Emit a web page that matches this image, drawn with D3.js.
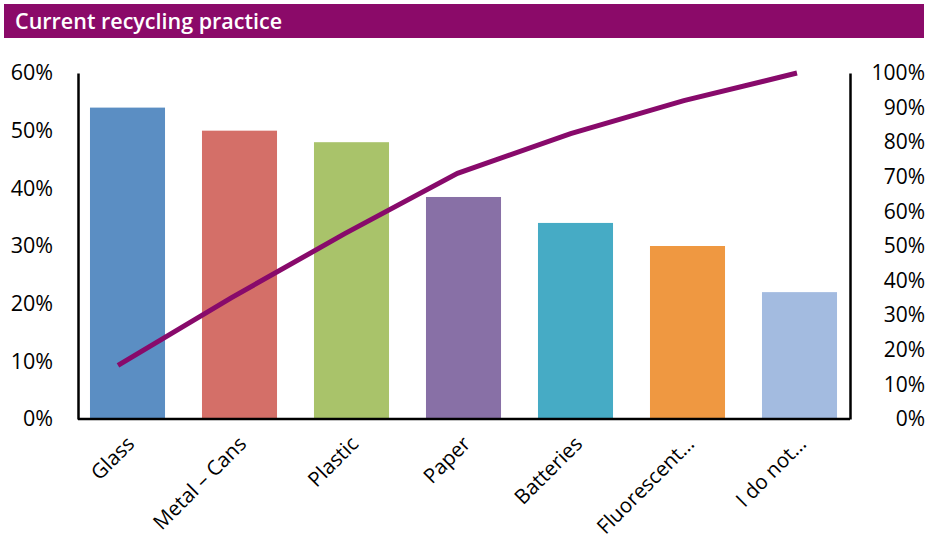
<!DOCTYPE html>
<html>
<head>
<meta charset="utf-8">
<script src="https://cdn.jsdelivr.net/npm/d3@7"></script>
<style>
  body { margin: 0; background: #fff; }
  svg { display: block; }
</style>
</head>
<body>
<div id="chart"></div>
<script>
// data
const categories = ["Glass", "Metal \u2013 Cans", "Plastic", "Paper", "Batteries", "Fluorescent\u2026", "I do not\u2026"];
const barValues = [54, 50, 48, 38.5, 34, 30, 22];
const cumulative = [15.5, 35, 53.5, 71, 82.5, 92, 100];
const barColors = ["#5b8ec3", "#d46f68", "#a9c36a", "#8870a6", "#46abc5", "#ef9841", "#a3bbe0"];
const leftTicks = [0, 10, 20, 30, 40, 50, 60];
const rightTicks = [0, 10, 20, 30, 40, 50, 60, 70, 80, 90, 100];
const title = "Current recycling practice";

const FONT = "'Open Sans', 'Noto Sans', sans-serif";
const W = 936, H = 541;
const plot = { left: 78, right: 850, top: 73, bottom: 419 };

const svg = d3.select("#chart").append("svg")
  .attr("width", W)
  .attr("height", H)
  .style("font-family", FONT);

// title bar
svg.append("rect")
  .attr("x", 4).attr("y", 4)
  .attr("width", 920).attr("height", 34)
  .attr("fill", "#8b0a69");
svg.append("text")
  .attr("x", 15).attr("y", 29)
  .attr("fill", "#fff")
  .attr("font-family", FONT)
  .attr("font-size", 21.5)
  .attr("font-weight", 600)
  .text(title);

const x = d3.scaleBand()
  .domain(categories)
  .range([71.5, 855.5])
  .paddingInner(0.33)
  .paddingOuter(0.165);

// line sits on its own, slightly narrower, category positions
const xLine = d3.scalePoint()
  .domain(categories)
  .range([118, 797]);

const yLeft = d3.scaleLinear().domain([0, 60]).range([plot.bottom, plot.top]);
const yRight = d3.scaleLinear().domain([0, 100]).range([plot.bottom, plot.top]);

svg.selectAll("rect.bar")
  .data(barValues)
  .enter()
  .append("rect")
  .attr("class", "bar")
  .attr("x", (d, i) => x(categories[i]))
  .attr("y", d => yLeft(d))
  .attr("width", x.bandwidth())
  .attr("height", d => yLeft(0) - yLeft(d))
  .attr("fill", (d, i) => barColors[i]);

// left axis
const axL = svg.append("g")
  .attr("transform", `translate(${plot.left},0)`)
  .call(d3.axisLeft(yLeft).tickValues(leftTicks).tickSize(0).tickPadding(25).tickFormat(d => d + "%"));
axL.attr("font-family", FONT);
axL.select(".domain").attr("stroke", "#000").attr("stroke-width", 2.5);
axL.selectAll("text").attr("font-size", 21.5).attr("fill", "#000");

// right axis
const axR = svg.append("g")
  .attr("transform", `translate(${plot.right},0)`)
  .call(d3.axisRight(yRight).tickValues(rightTicks).tickSize(0).tickPadding(0).tickFormat(d => d + "%"));
axR.attr("font-family", FONT);
axR.select(".domain").attr("stroke", "#000").attr("stroke-width", 2.5);
axR.selectAll("text")
  .attr("font-size", 21).attr("fill", "#000")
  .attr("text-anchor", "end")
  .attr("x", 925 - plot.right);

// bottom axis
const axB = svg.append("g")
  .attr("transform", `translate(0,${plot.bottom})`)
  .call(d3.axisBottom(x).tickSize(0).tickSizeOuter(0));
axB.attr("font-family", FONT);
axB.select(".domain").attr("stroke", "#000").attr("stroke-width", 2.5)
  .attr("d", `M${plot.left},0H${plot.right}`);
axB.selectAll("text")
  .attr("font-size", 20.5).attr("fill", "#000")
  .attr("text-anchor", "end")
  .attr("dy", 0)
  .attr("transform", "translate(6,24) rotate(-45)");

// cumulative line
svg.append("path")
  .datum(cumulative)
  .attr("fill", "none")
  .attr("stroke", "#880a6b")
  .attr("stroke-width", 5)
  .attr("d", d3.line().x((d, i) => xLine(categories[i])).y(d => yRight(d)));
</script>
</body>
</html>
